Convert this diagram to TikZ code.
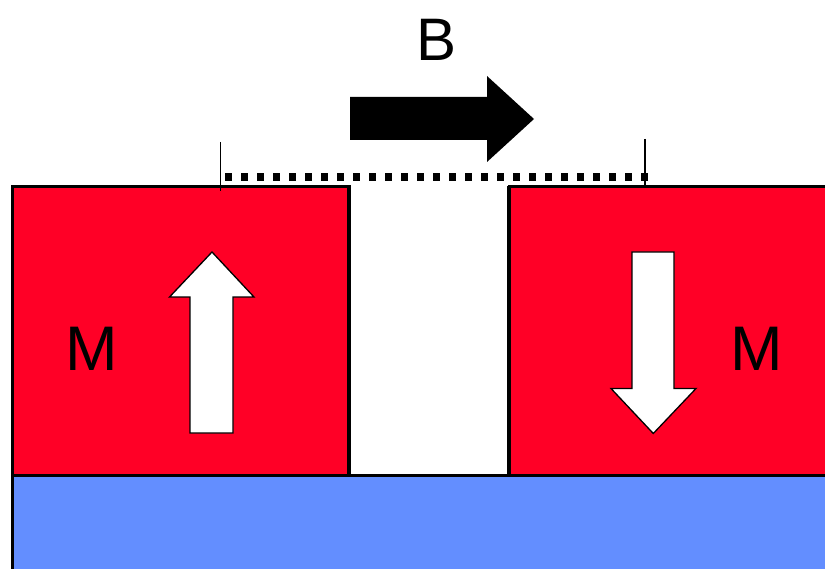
\documentclass[tikz,border=0pt]{standalone}
\usepackage{fontspec}
\setmainfont{Liberation Sans}
\definecolor{magred}{RGB}{255,0,38}
\definecolor{subblue}{RGB}{99,142,255}
\tikzset{
  block/.style={fill=magred, draw=black, line width=3pt},
  base/.style={fill=subblue, draw=black, line width=3pt},
  marrow/.style={fill=white, draw=black, line width=1.3pt, line join=miter},
  lbl/.style={inner sep=0pt, font=\fontsize{63}{63}\selectfont},
  tick/.style={draw=black, line width=1.5pt}
}
\begin{document}
\begin{tikzpicture}[x=1pt,y=-1pt]
\useasboundingbox (0,0) rectangle (825,569);
\begin{scope}
\clip (0,0) rectangle (825,569);
% substrate
\draw[base] (12,475) rectangle (840,590);
% magnet blocks
\draw[block] (12,187) rectangle (349,475);
\draw[block] (509,187) rectangle (840,475);
\draw[black, line width=4.5pt] (349,186) -- (349,475);
\draw[black, line width=4.5pt] (509,186) -- (509,475);
\draw[black, line width=3pt] (349,475) -- (509,475);
\end{scope}
% magnetisation arrows
\draw[marrow] (190,433) -- (190,297) -- (169.5,297) -- (212,252) -- (254,297) -- (233,297) -- (233,433) -- cycle;
\draw[marrow] (632,252) -- (674,252) -- (674,388.5) -- (696,388.5) -- (653.3,433.5) -- (611,388.5) -- (632,388.5) -- cycle;
% labels
\node[lbl] (mleft) at (91.5,348.5) {M};
\node[lbl] (mright) at (757,348.5) {M};
\node[inner sep=0pt, font=\fontsize{60}{60}\selectfont] (bl) at (436.5,40) {B};
% field arrow
\fill[black] (350,97) -- (487,97) -- (487,76) -- (534,119) -- (487,162) -- (487,140) -- (350,140) -- cycle;
% dotted measurement line
\coordinate (dl) at (225,177);
\coordinate (dr) at (648,177);
\draw[black, line width=8pt, dash pattern=on 7pt off 9pt] (dl) -- (dr);
\draw[tick] (220.7,142) -- (220.7,191);
\draw[tick] (645,139) -- (645,186);
\end{tikzpicture}
\end{document}
